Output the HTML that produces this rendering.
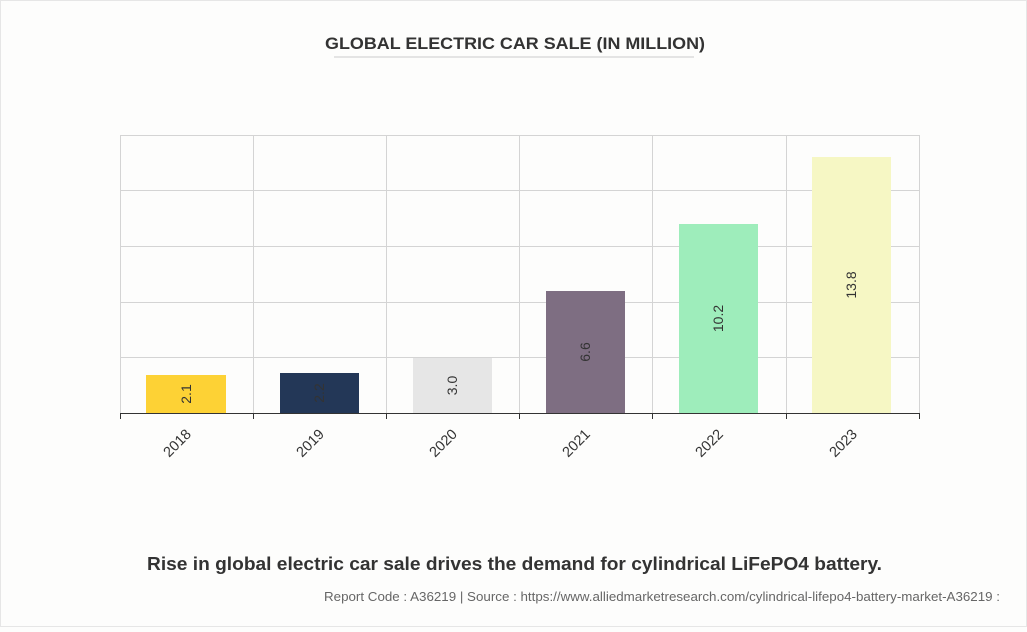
<!DOCTYPE html>
<html><head><style>
html,body{margin:0;padding:0;background:#fdfdfc;}
body{width:1027px;height:627px;overflow:hidden;font-family:"Liberation Sans",Arial,sans-serif;}
</style></head><body>
<svg width="1027" height="627" xmlns="http://www.w3.org/2000/svg" font-family="Liberation Sans, Arial, sans-serif">
<rect x="0.5" y="0.5" width="1026" height="626" fill="#fdfdfc" stroke="#e6e6e6"/>
<text x="325" y="49" font-size="16.5" font-weight="bold" fill="#333" textLength="380" lengthAdjust="spacingAndGlyphs">GLOBAL ELECTRIC CAR SALE (IN MILLION)</text>
<line x1="334" y1="57" x2="694" y2="57" stroke="#ccc" stroke-width="1"/>
<g stroke="#d4d4d4" stroke-width="1">
<line x1="120" y1="135.5" x2="919" y2="135.5"/>
<line x1="120" y1="190.5" x2="919" y2="190.5"/>
<line x1="120" y1="246.5" x2="919" y2="246.5"/>
<line x1="120" y1="302.5" x2="919" y2="302.5"/>
<line x1="120" y1="357.5" x2="919" y2="357.5"/>
<line x1="120.5" y1="135" x2="120.5" y2="413"/>
<line x1="253.5" y1="135" x2="253.5" y2="413"/>
<line x1="386.5" y1="135" x2="386.5" y2="413"/>
<line x1="519.5" y1="135" x2="519.5" y2="413"/>
<line x1="652.5" y1="135" x2="652.5" y2="413"/>
<line x1="786.5" y1="135" x2="786.5" y2="413"/>
<line x1="919.5" y1="135" x2="919.5" y2="413"/>
</g>
<rect x="146" y="375" width="80" height="38" fill="#fdd235"/>
<rect x="280" y="373" width="79" height="40" fill="#233757"/>
<rect x="413" y="358" width="79" height="55" fill="#e6e6e6"/>
<rect x="546" y="291" width="79" height="122" fill="#7e6e82"/>
<rect x="679" y="224" width="79" height="189" fill="#9eedbb"/>
<rect x="812" y="157" width="79" height="256" fill="#f6f7c4"/>
<g font-size="14" fill="#333" text-anchor="middle">
<text transform="translate(191,394) rotate(-90)">2.1</text>
<text transform="translate(324,393) rotate(-90)">2.2</text>
<text transform="translate(457,385.5) rotate(-90)">3.0</text>
<text transform="translate(590,352) rotate(-90)">6.6</text>
<text transform="translate(723,318.5) rotate(-90)">10.2</text>
<text transform="translate(856,285) rotate(-90)">13.8</text>
</g>
<line x1="120" y1="413.5" x2="919" y2="413.5" stroke="#333"/>
<g stroke="#333">
<line x1="120.5" y1="413" x2="120.5" y2="419"/><line x1="253.5" y1="413" x2="253.5" y2="419"/>
<line x1="386.5" y1="413" x2="386.5" y2="419"/><line x1="519.5" y1="413" x2="519.5" y2="419"/>
<line x1="652.5" y1="413" x2="652.5" y2="419"/><line x1="786.5" y1="413" x2="786.5" y2="419"/>
<line x1="919.5" y1="413" x2="919.5" y2="419"/>
</g>
<g font-size="14.5" fill="#333" text-anchor="end">
<text transform="translate(192,435) rotate(-45)">2018</text>
<text transform="translate(325,435) rotate(-45)">2019</text>
<text transform="translate(458,435) rotate(-45)">2020</text>
<text transform="translate(591,435) rotate(-45)">2021</text>
<text transform="translate(724,435) rotate(-45)">2022</text>
<text transform="translate(858,435) rotate(-45)">2023</text>
</g>
<text x="147" y="570" font-size="18" font-weight="bold" fill="#333" textLength="735" lengthAdjust="spacingAndGlyphs">Rise in global electric car sale drives the demand for cylindrical LiFePO4 battery.</text>
<text x="324" y="601" font-size="12.5" fill="#666" textLength="676" lengthAdjust="spacingAndGlyphs">Report Code : A36219  |  Source : https://www.alliedmarketresearch.com/cylindrical-lifepo4-battery-market-A36219 :</text>
</svg>
</body></html>
